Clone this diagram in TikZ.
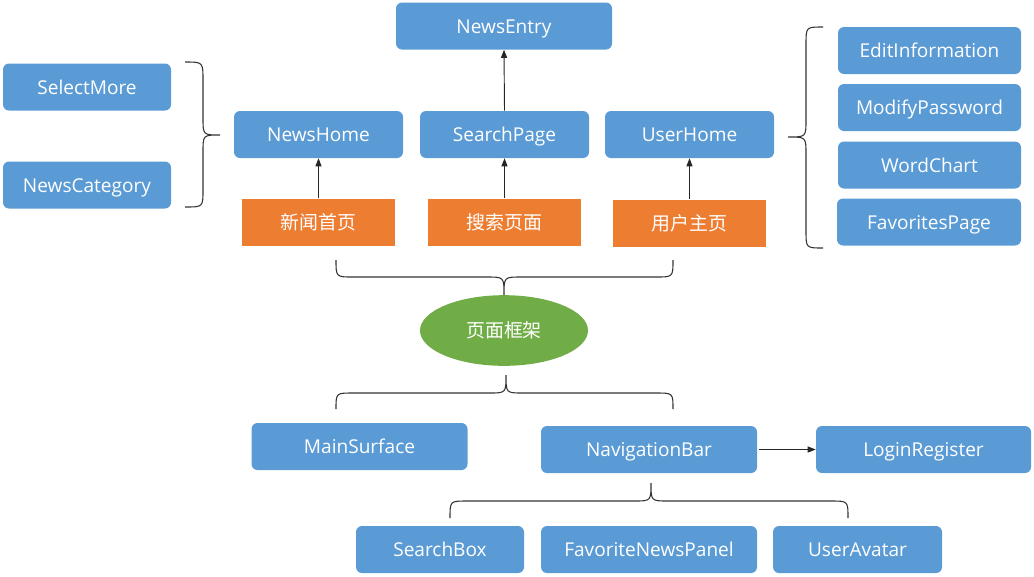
\documentclass[tikz,border=0pt]{standalone}
\usepackage{fontspec}
\setmainfont{Open Sans}
\newfontfamily\cjk{Noto Sans CJK SC}
\usetikzlibrary{arrows.meta,shapes.geometric}
\definecolor{boxblue}{HTML}{5B9BD5}
\definecolor{boxorange}{HTML}{ED7D31}
\definecolor{boxgreen}{HTML}{70AD47}
\tikzset{
  bluebox/.style={fill=boxblue, draw=none, rounded corners=4.5pt, text=white,
    font=\fontsize{14.3}{16}\selectfont, inner sep=0pt, minimum height=35.25pt,
    text height=13pt, text depth=2pt},
  orangebox/.style={fill=boxorange, draw=none, text=white,
    font=\cjk\fontsize{14.2}{16}\selectfont, inner sep=0pt, minimum width=114.75pt, minimum height=35.25pt,
    text height=13pt, text depth=2pt},
  greenell/.style={ellipse, fill=boxgreen, draw=none, text=white,
    font=\cjk\fontsize{14.2}{16}\selectfont, inner sep=0pt, minimum width=126pt, minimum height=53pt,
    text height=13pt, text depth=2pt},
  arr/.style={draw=black!85, line width=0.7pt, -{Triangle[length=6pt,width=4.5pt]}},
  bracestyle/.style={draw=black!80, line width=0.8pt},
}
\begin{document}
\begin{tikzpicture}[x=0.75pt,y=-0.75pt]
\useasboundingbox (0,0) rectangle (1034,576);
% top row
\node[bluebox, minimum width=162pt] (entry) at (504,26) {NewsEntry};
\node[bluebox, minimum width=126pt] (select) at (87,87) {SelectMore};
\node[bluebox, minimum width=126pt] (category) at (87,185) {NewsCategory};
\node[bluebox, minimum width=126.75pt] (home) at (318.5,134.5) {NewsHome};
\node[bluebox, minimum width=126.75pt] (search) at (504.5,134.5) {SearchPage};
\node[bluebox, minimum width=126.75pt] (user) at (689.5,134.5) {UserHome};
\node[orangebox] (xw) at (318.5,222) {新闻首页};
\node[orangebox] (ss) at (504.5,222) {搜索页面};
\node[orangebox] (yh) at (689.5,223) {用户主页};
\node[bluebox, minimum width=137.25pt] (edit) at (929.5,50.5) {EditInformation};
\node[bluebox, minimum width=137.25pt] (modify) at (929.5,107.5) {ModifyPassword};
\node[bluebox, minimum width=137.25pt] (word) at (929.5,165) {WordChart};
\node[bluebox, minimum width=138pt] (fav) at (929,222) {FavoritesPage};
% center
\node[greenell] (frame) at (504,330.5) {页面框架};
% bottom
\node[bluebox, minimum width=162pt] (main) at (359.5,446.5) {MainSurface};
\node[bluebox, minimum width=162pt] (nav) at (649,449.5) {NavigationBar};
\node[bluebox, minimum width=161.25pt] (login) at (923.5,449.5) {LoginRegister};
\node[bluebox, minimum width=126pt] (sbox) at (440,549.5) {SearchBox};
\node[bluebox, minimum width=162pt] (fpanel) at (649,549.5) {FavoriteNewsPanel};
\node[bluebox, minimum width=126.75pt] (avatar) at (857.5,549.5) {UserAvatar};
% arrows
\draw[arr] (xw.north) -- (home.south);
\draw[arr] (ss.north) -- (search.south);
\draw[arr] (yh.north) -- (user.south);
\draw[arr] (search.north) -- (entry.south);
\draw[arr] ([xshift=1.5pt]nav.east) -- (login.west);
% braces
\draw[bracestyle] (185,62) .. controls (203,62) .. (203,80) -- (203,118)
  .. controls (203,135) .. (220,135) .. controls (203,135) .. (203,152)
  -- (203,190) .. controls (203,207) .. (185,207);
\draw[bracestyle] (823,27) .. controls (806,27) .. (806,44) -- (806,120)
  .. controls (806,137) .. (788,137) .. controls (806,137) .. (806,154)
  -- (806,231) .. controls (806,248) .. (823,248);
\draw[bracestyle] (336,260) .. controls (336,277) .. (353,277) -- (487,277)
  .. controls (504,277) .. (504,295) .. controls (504,277) .. (521,277)
  -- (656,277) .. controls (673,277) .. (673,260);
\draw[bracestyle] (336,409) .. controls (336,393) .. (353,393) -- (489,393)
  .. controls (506,393) .. (506,375) .. controls (506,393) .. (523,393)
  -- (656,393) .. controls (673,393) .. (673,409);
\draw[bracestyle] (450,518) .. controls (450,501) .. (467,501) -- (634,501)
  .. controls (651,501) .. (651,483) .. controls (651,501) .. (668,501)
  -- (831,501) .. controls (848,501) .. (848,518);
\end{tikzpicture}
\end{document}
